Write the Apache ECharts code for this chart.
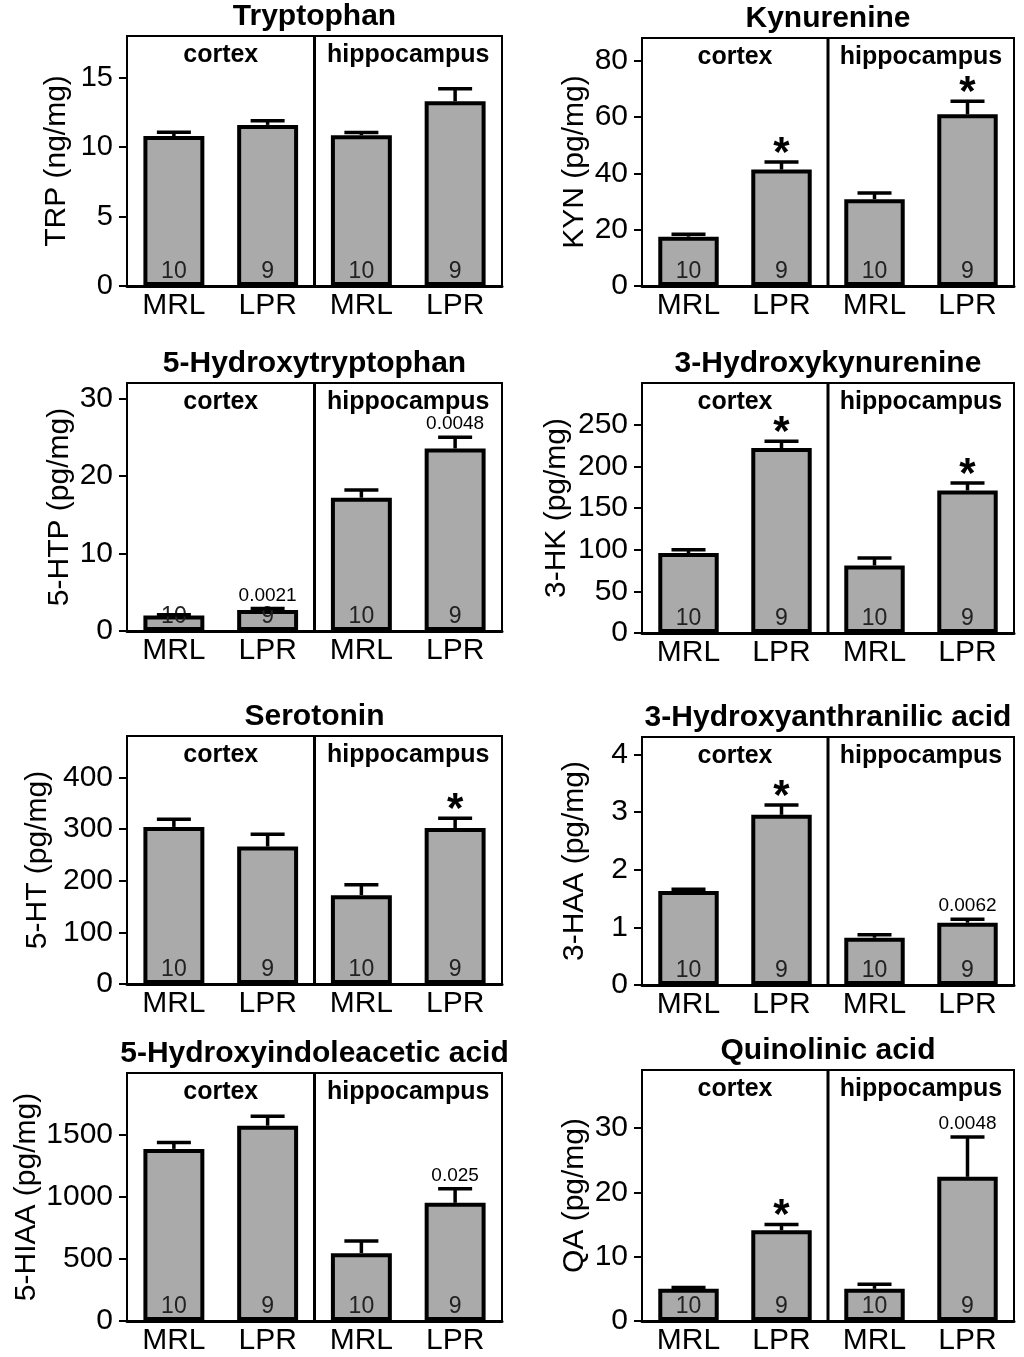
<!DOCTYPE html>
<html>
<head>
<meta charset="utf-8">
<script src="https://cdn.jsdelivr.net/npm/echarts@6/dist/echarts.min.js"></script>
<style>
html,body{margin:0;padding:0;background:#fff;}
#chart{width:1024px;height:1357px;}
</style>
</head>
<body>
<div id="chart"></div>
<script>
// ---------- data ----------
const categories = ['MRL', 'LPR', 'MRL', 'LPR'];
const regions = ['cortex', 'hippocampus'];
const nCounts = [10, 9, 10, 9];

const titles = ['Tryptophan', 'Kynurenine', '5-Hydroxytryptophan', '3-Hydroxykynurenine',
  'Serotonin', '3-Hydroxyanthranilic acid', '5-Hydroxyindoleacetic acid', 'Quinolinic acid'];
const yNames = ['TRP (ng/mg)', 'KYN (pg/mg)', '5-HTP (pg/mg)', '3-HK (pg/mg)',
  '5-HT (pg/mg)', '3-HAA (pg/mg)', '5-HIAA (pg/mg)', 'QA (pg/mg)'];

const trpMean = [10.8, 11.6, 10.85, 13.3];
const trpSem = [0.27, 0.3, 0.2, 0.9];
const trpSig = ['', '', '', ''];
const trpTicks = [0, 5, 10, 15];
const trpMax = 18;

const kynMean = [17.5, 41.3, 30.8, 60.9];
const kynSem = [0.9, 2.7, 2.2, 4.7];
const kynSig = ['', '*', '', '*'];
const kynTicks = [0, 20, 40, 60, 80];
const kynMax = 88;

const htpMean = [2.0, 2.7, 17.2, 23.55];
const htpSem = [0.1, 0.2, 1.0, 1.45];
const htpSig = ['', '0.0021', '', '0.0048'];
const htpTicks = [0, 10, 20, 30];
const htpMax = 32;

const hkMean = [96, 222, 81, 171];
const hkSem = [4, 8, 9, 9];
const hkSig = ['', '*', '', '*'];
const hkTicks = [0, 50, 100, 150, 200, 250];
const hkMax = 300;

const htMean = [304, 266, 172, 302];
const htSem = [15, 24, 20, 19];
const htSig = ['', '', '', '*'];
const htTicks = [0, 100, 200, 300, 400];
const htMax = 480;

const haaMean = [1.63, 2.95, 0.82, 1.08];
const haaSem = [0.03, 0.17, 0.05, 0.06];
const haaSig = ['', '*', '', '0.0062'];
const haaTicks = [0, 1, 2, 3, 4];
const haaMax = 4.3;

const hiaaMean = [1388, 1575, 547, 953];
const hiaaSem = [51, 77, 99, 114];
const hiaaSig = ['', '', '', '0.025'];
const hiaaTicks = [0, 500, 1000, 1500];
const hiaaMax = 2000;

const qaMean = [5.0, 14.1, 5.0, 22.4];
const qaSem = [0.2, 0.9, 0.7, 6.2];
const qaSig = ['', '*', '', '0.0048'];
const qaTicks = [0, 10, 20, 30];
const qaMax = 39;

// ---------- layout (positions/styles only) ----------
const panelsData = [
  {mean: trpMean, sem: trpSem, sig: trpSig, ticks: trpTicks, max: trpMax},
  {mean: kynMean, sem: kynSem, sig: kynSig, ticks: kynTicks, max: kynMax},
  {mean: htpMean, sem: htpSem, sig: htpSig, ticks: htpTicks, max: htpMax},
  {mean: hkMean, sem: hkSem, sig: hkSig, ticks: hkTicks, max: hkMax},
  {mean: htMean, sem: htSem, sig: htSig, ticks: htTicks, max: htMax},
  {mean: haaMean, sem: haaSem, sig: haaSig, ticks: haaTicks, max: haaMax},
  {mean: hiaaMean, sem: hiaaSem, sig: hiaaSig, ticks: hiaaTicks, max: hiaaMax},
  {mean: qaMean, sem: qaSem, sig: qaSig, ticks: qaTicks, max: qaMax}
];
const gridLayout = [
  {left: 127, top: 36, width: 375, height: 250, gap: 55, tick: 29},
  {left: 642, top: 38, width: 372, height: 248, gap: 52, tick: 30},
  {left: 127, top: 383, width: 375, height: 248, gap: 52, tick: 30},
  {left: 642, top: 383, width: 372, height: 250, gap: 70, tick: 30},
  {left: 127, top: 736, width: 375, height: 248, gap: 74, tick: 30},
  {left: 642, top: 737, width: 372, height: 248, gap: 52, tick: 30},
  {left: 127, top: 1073, width: 375, height: 248, gap: 85, tick: 30},
  {left: 642, top: 1070, width: 372, height: 251, gap: 52, tick: 30}
];

const FONT = '"Liberation Sans", Arial, sans-serif';

const grids = [], xAxes = [], yAxes = [], series = [], graphics = [];

gridLayout.forEach((g, k) => {
  const pd = panelsData[k];
  grids.push({left: g.left, top: g.top, width: g.width, height: g.height,
    show: true, borderColor: '#000', borderWidth: 2, backgroundColor: 'transparent', containLabel: false});
  xAxes.push({type: 'category', gridIndex: k, data: categories,
    axisLine: {show: true, lineStyle: {color: '#000', width: 3}},
    axisTick: {show: false},
    axisLabel: {fontSize: 30, color: '#000', margin: 5, fontFamily: FONT, interval: 0}
  });
  yAxes.push({type: 'value', gridIndex: k, min: 0, max: pd.max,
    name: yNames[k], nameLocation: 'middle', nameGap: g.gap,
    nameTextStyle: {fontSize: 30, color: '#000', fontFamily: FONT},
    axisLine: {show: true, lineStyle: {color: '#000', width: 2}},
    axisTick: {show: true, inside: false, length: 8, lineStyle: {color: '#000', width: 2}, customValues: pd.ticks},
    axisLabel: {fontSize: g.tick, color: '#000', margin: 14, fontFamily: FONT, customValues: pd.ticks,
      formatter: v => String(v)},
    splitLine: {show: false}
  });
  series.push({
    type: 'bar', xAxisIndex: k, yAxisIndex: k, data: pd.mean, barWidth: '65%',
    itemStyle: {color: '#aaaaaa', borderColor: '#000', borderWidth: 4},
    label: {show: true, position: 'insideBottom', distance: 3, fontSize: 23, color: '#222', fontFamily: FONT,
      formatter: p => String(nCounts[p.dataIndex])},
    z: 2, silent: true, animation: false
  });
  series.push({
    type: 'custom', xAxisIndex: k, yAxisIndex: k, z: 3, animation: false, silent: true,
    encode: {x: 0, y: [1, 2]},
    data: pd.mean.map((m, i) => [i, m, m + pd.sem[i]]),
    renderItem: (params, api) => {
      const i = api.value(0);
      const base = api.coord([i, api.value(1)]);
      const top = api.coord([i, api.value(2)]);
      const children = [
        {type: 'line', shape: {x1: base[0], y1: base[1], x2: top[0], y2: top[1]}, style: {stroke: '#000', lineWidth: 3.5}},
        {type: 'line', shape: {x1: top[0] - 17, y1: top[1], x2: top[0] + 17, y2: top[1]}, style: {stroke: '#000', lineWidth: 3.5}}
      ];
      const s = pd.sig[params.dataIndex];
      if (s === '*') {
        children.push({type: 'text', x: top[0], y: top[1] - 8,
          style: {text: '*', fontSize: 42, fontWeight: 'bold', fill: '#000', align: 'center', verticalAlign: 'middle', fontFamily: FONT}});
      } else if (s) {
        children.push({type: 'text', x: top[0], y: top[1] - 13,
          style: {text: s, fontSize: 19, fill: '#000', align: 'center', verticalAlign: 'middle', fontFamily: FONT}});
      }
      return {type: 'group', children};
    }
  });
  series.push({
    type: 'custom', xAxisIndex: k, yAxisIndex: k, z: 4, animation: false, silent: true,
    encode: {x: 0, y: 1},
    data: [[0, 0]],
    renderItem: (params, api) => {
      const cs = params.coordSys;
      const xm = (api.coord([1, 0])[0] + api.coord([2, 0])[0]) / 2;
      return {type: 'group', children: [
        {type: 'line', shape: {x1: xm, y1: cs.y, x2: xm, y2: cs.y + cs.height}, style: {stroke: '#000', lineWidth: 3}},
        {type: 'text', x: (cs.x + xm) / 2, y: cs.y + 19,
          style: {text: regions[0], fontSize: 25, fontWeight: 'bold', fill: '#000', align: 'center', verticalAlign: 'middle', fontFamily: FONT}},
        {type: 'text', x: (xm + cs.x + cs.width) / 2, y: cs.y + 19,
          style: {text: regions[1], fontSize: 25, fontWeight: 'bold', fill: '#000', align: 'center', verticalAlign: 'middle', fontFamily: FONT}}
      ]};
    }
  });
  graphics.push({type: 'text', x: g.left + g.width / 2, y: g.top - 19,
    style: {text: titles[k], fontSize: 30, fontWeight: 'bold', fill: '#000', align: 'center', verticalAlign: 'middle', fontFamily: FONT}});
});

const chart = echarts.init(document.getElementById('chart'), null, {renderer: 'canvas'});
chart.setOption({
  backgroundColor: '#fff',
  animation: false,
  textStyle: {fontFamily: FONT},
  grid: grids, xAxis: xAxes, yAxis: yAxes, series: series, graphic: graphics
});
</script>
</body>
</html>
